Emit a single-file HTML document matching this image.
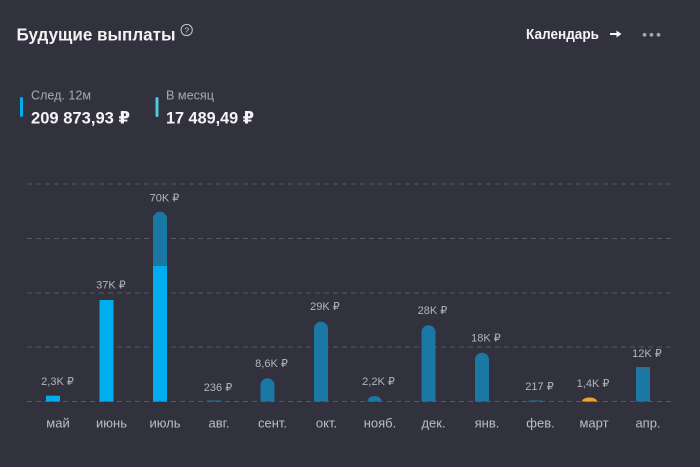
<!DOCTYPE html>
<html><head><meta charset="utf-8"><style>
html,body{margin:0;padding:0;background:#32323e;}
svg{display:block;}
text{font-family:"Liberation Sans","DejaVu Sans",sans-serif;}
</style></head><body>
<svg width="700" height="467" viewBox="0 0 700 467" xmlns="http://www.w3.org/2000/svg">
<rect width="700" height="467" fill="#32323e"/>
<!-- header -->
<text x="16.5" y="40.5" font-size="17.5" font-weight="bold" fill="#f2f2f4" textLength="159" lengthAdjust="spacingAndGlyphs">Будущие выплаты</text>
<circle cx="186.7" cy="30" r="5.6" fill="none" stroke="#c8c8d0" stroke-width="1"/>
<text x="186.7" y="33.3" font-size="8.5" fill="#c8c8d0" text-anchor="middle">?</text>
<text x="526" y="39" font-size="14.5" font-weight="bold" fill="#f4f4f6" textLength="73" lengthAdjust="spacingAndGlyphs">Календарь</text>
<line x1="610" y1="34" x2="620" y2="34" stroke="#f4f4f6" stroke-width="2"/>
<path d="M616.5 30.5 L621.5 34 L616.5 37.5 Z" fill="#f4f4f6"/>
<circle cx="644.5" cy="34.8" r="1.9" fill="#a4a4ae"/>
<circle cx="651.5" cy="34.8" r="1.9" fill="#a4a4ae"/>
<circle cx="658.5" cy="34.8" r="1.9" fill="#a4a4ae"/>
<!-- legend -->
<rect x="20" y="97" width="3" height="20" rx="1.5" fill="#00aef0"/>
<text x="31" y="99.5" font-size="13" fill="#a8a8b2" textLength="60" lengthAdjust="spacingAndGlyphs">След. 12м</text>
<text x="31" y="123.5" font-size="17" font-weight="bold" fill="#f4f4f6" textLength="99" lengthAdjust="spacingAndGlyphs">209 873,93 ₽</text>
<rect x="155.5" y="97" width="3" height="20" rx="1.5" fill="#52c8dc"/>
<text x="166" y="99.5" font-size="13" fill="#a8a8b2" textLength="48" lengthAdjust="spacingAndGlyphs">В месяц</text>
<text x="166" y="123.5" font-size="17" font-weight="bold" fill="#f4f4f6" textLength="88" lengthAdjust="spacingAndGlyphs">17 489,49 ₽</text>
<!-- grid -->
<g stroke="#575766" stroke-width="1" stroke-dasharray="5 4">
<line x1="27" y1="184" x2="671" y2="184"/>
<line x1="27" y1="238.5" x2="671" y2="238.5"/>
<line x1="27" y1="293" x2="671" y2="293"/>
<line x1="27" y1="347" x2="671" y2="347"/>
<line x1="27" y1="401.5" x2="671" y2="401.5"/>
</g>
<!-- bars -->
<!-- May -->
<rect x="46" y="395.7" width="14" height="5.8" fill="#00adef"/>
<!-- June -->
<rect x="99.5" y="300" width="14" height="101.5" fill="#00adef"/>
<!-- July -->
<path d="M153 401.5 V218.7 A7 7 0 0 1 167 218.7 V401.5 Z" fill="#1b77a3"/>
<rect x="153" y="266" width="14" height="135.5" fill="#00adef"/>
<!-- Aug -->
<rect x="207" y="400.5" width="14" height="1" fill="#1b77a3"/>
<!-- Sep -->
<path d="M260.5 401.5 V385.3 A7 7 0 0 1 274.5 385.3 V401.5 Z" fill="#1b77a3"/>
<!-- Oct -->
<path d="M314 401.5 V328.7 A7 7 0 0 1 328 328.7 V401.5 Z" fill="#1b77a3"/>
<!-- Nov -->
<path d="M367.5 401.5 A7 5.5 0 0 1 381.5 401.5 Z" fill="#1b77a3"/>
<!-- Dec -->
<path d="M421.5 401.5 V332.3 A7 7 0 0 1 435.5 332.3 V401.5 Z" fill="#1b77a3"/>
<!-- Jan -->
<path d="M475 401.5 V359.7 A7 7 0 0 1 489 359.7 V401.5 Z" fill="#1b77a3"/>
<!-- Feb -->
<rect x="528.5" y="400.5" width="14" height="1" fill="#1b77a3"/>
<!-- Mar -->
<path d="M582 401.5 A7.5 4 0 0 1 597 401.5 Z" fill="#f0a42c"/>
<!-- Apr -->
<rect x="636" y="367.3" width="14" height="34.2" fill="#1b77a3"/>
<rect x="636" y="367.3" width="14" height="1" fill="#6a6a64"/>
<!-- value labels -->
<g font-size="11" fill="#b4b4be" text-anchor="middle">
<text x="57.5" y="385">2,3K ₽</text>
<text x="111" y="288.5">37K ₽</text>
<text x="164.5" y="201.5">70K ₽</text>
<text x="218" y="391">236 ₽</text>
<text x="271.5" y="367">8,6K ₽</text>
<text x="325" y="310">29K ₽</text>
<text x="378.5" y="385">2,2K ₽</text>
<text x="432.5" y="314">28K ₽</text>
<text x="486" y="341.5">18K ₽</text>
<text x="539.5" y="390">217 ₽</text>
<text x="593" y="387">1,4K ₽</text>
<text x="647" y="357">12K ₽</text>
</g>
<!-- month labels -->
<g font-size="13" fill="#bcbcc6" text-anchor="middle">
<text x="58" y="427.5">май</text>
<text x="111.5" y="427.5">июнь</text>
<text x="165" y="427.5">июль</text>
<text x="219" y="427.5">авг.</text>
<text x="272.5" y="427.5">сент.</text>
<text x="326.5" y="427.5">окт.</text>
<text x="380" y="427.5">нояб.</text>
<text x="433.5" y="427.5">дек.</text>
<text x="487" y="427.5">янв.</text>
<text x="540.5" y="427.5">фев.</text>
<text x="594" y="427.5">март</text>
<text x="648" y="427.5">апр.</text>
</g>
</svg>
</body></html>
